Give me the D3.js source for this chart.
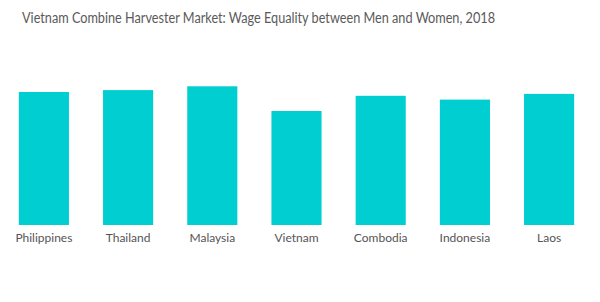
<!DOCTYPE html>
<html>
<head>
    <meta charset="utf-8" />
    <script src="https://cdn.jsdelivr.net/npm/d3@7"></script>
    <style>
        body {
            padding: 0;
            margin: 0;
            background: #fff;
        }
        .title {
            font: 14.5px Lato, sans-serif;
            fill: #5a5a5a;
        }
        .ticks text {
            font: 12px Lato, sans-serif;
            fill: #555;
        }
    </style>
</head>
<body>
    <svg id="chart" width="600" height="302"></svg>
    <script>

// data
var countries = ["Philippines", "Thailand", "Malaysia", "Vietnam", "Combodia", "Indonesia", "Laos"];
var wageEquality = [0.70, 0.71, 0.73, 0.60, 0.68, 0.66, 0.69];
var titleText = "Vietnam Combine Harvester Market: Wage Equality between Men and Women, 2018";

var svg = d3.select("#chart");

// reference font is narrower than Lato, so squeeze to the same width
svg.append("text")
    .attr("class", "title")
    .attr("x", 22)
    .attr("y", 23)
    .attr("textLength", 473)
    .attr("lengthAdjust", "spacingAndGlyphs")
    .text(titleText);

var x = d3.scaleBand()
    .domain(countries)
    .range([2, 591])
    .paddingInner(0.405)
    .paddingOuter(0.2);

var y = d3.scaleLinear()
    .domain([0, 1])
    .range([225, 35]);

svg.append("g")
  .selectAll("rect")
  .data(countries)
  .enter().append("rect")
    .attr("x", function(d) { return x(d); })
    .attr("width", x.bandwidth())
    .attr("y", function(d, i) { return y(wageEquality[i]); })
    .attr("height", function(d, i) { return y(0) - y(wageEquality[i]); })
    .attr("fill", "#00ced1");

// x axis, labels only
var xAxis = svg.append("g")
    .attr("class", "ticks")
    .attr("transform", "translate(0," + y(0) + ")")
    .call(d3.axisBottom(x).tickSize(0).tickPadding(8));
xAxis.select(".domain").remove();

    </script>
</body>
</html>
